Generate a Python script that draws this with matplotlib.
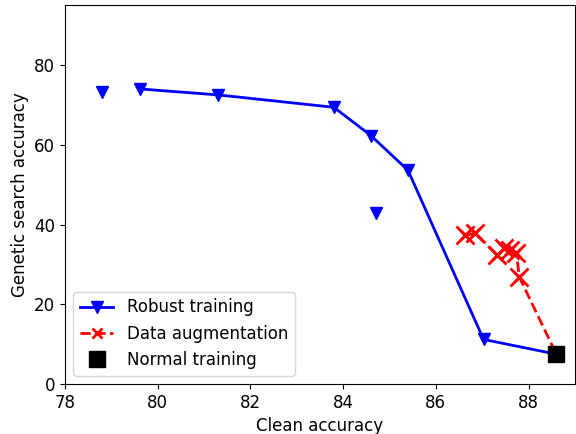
import numpy as np
import matplotlib
matplotlib.use("Agg")
import matplotlib.pyplot as plt

#----Data----
robust_clean = [79.62, 81.31, 83.80, 84.60, 85.40, 87.03, 88.60]
robust_gen = [74.0, 72.5, 69.4, 62.3, 53.6, 11.2, 7.5]

# robust training runs not on the frontier line
extra_clean = [78.80, 84.70]
extra_gen = [73.3, 43.0]

aug_clean = [86.62, 86.85, 87.33, 87.47, 87.59, 87.74, 87.80, 88.60]
aug_gen = [37.3, 37.8, 32.3, 34.0, 33.6, 32.9, 26.9, 7.5]

normal_clean = [88.60]
normal_gen = [7.5]

plt.rcParams['font.size'] = 12
fig = plt.figure(figsize=(5.76, 4.34), dpi=100)
ax = fig.add_subplot(111)

ax.plot(robust_clean, robust_gen, 'b-v', lw=2, ms=8, label="Robust training")
ax.plot(extra_clean, extra_gen, 'bv', ms=8)
ax.plot(aug_clean, aug_gen, 'r--x', lw=2, ms=7, mew=2, label="Data augmentation")
# bigger crosses on the data, small ones in the legend
ax.plot(aug_clean[:-1], aug_gen[:-1], 'rx', ms=13, mew=2)
ax.plot(normal_clean, normal_gen, 'ks', ms=11, label="Normal training")

ax.set_xlim(78, 89)
ax.set_ylim(0, 95)
ax.set_xlabel("Clean accuracy")
ax.set_ylabel("Genetic search accuracy")
ax.legend(loc="lower left")

fig.subplots_adjust(left=0.113, right=0.998, bottom=0.115, top=0.988)
fig.savefig("out.png")
